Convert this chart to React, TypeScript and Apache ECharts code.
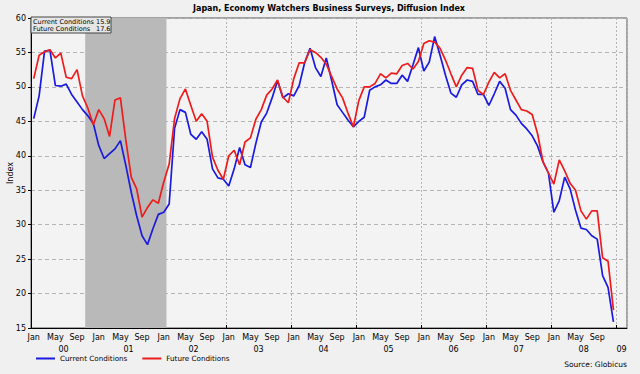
import React, { useEffect, useRef } from 'react';
import * as echarts from 'echarts';

const MONTHS = ['Jan', 'Feb', 'Mar', 'Apr', 'May', 'Jun', 'Jul', 'Aug', 'Sep', 'Oct', 'Nov', 'Dec'];
const YEARS = ['00', '01', '02', '03', '04', '05', '06', '07', '08', '09'];

// Monthly values Jan 2000 - Dec 2008
const CURRENT = [
  45.4, 48.7, 55.2, 55.3, 50.2, 50.1, 50.4, 48.9, 47.8, 46.7, 45.8, 44.7,
  41.5, 39.6, 40.3, 41.0, 42.2, 38.6, 34.7, 31.3, 28.4, 27.1, 29.4, 31.5,
  31.8, 33.0, 44.0, 46.7, 46.3, 43.1, 42.4, 43.5, 42.4, 38.1, 36.8, 36.6,
  35.6, 38.1, 41.2, 38.7, 38.3, 41.8, 44.9, 46.2, 48.4, 50.9, 48.4, 49.0,
  48.7, 50.2, 53.5, 55.6, 52.8, 51.5, 54.2, 50.9, 47.4, 46.3, 45.2, 44.2,
  45.0, 45.6, 49.5, 50.0, 50.3, 51.0, 50.5, 50.5, 51.7, 50.8, 53.2, 55.7,
  52.3, 53.6, 57.3, 54.6, 51.7, 49.1, 48.5, 50.3, 51.0, 50.8, 48.9, 48.9,
  47.3, 49.0, 50.8, 49.8, 46.7, 45.9, 44.7, 43.9, 42.9, 41.4, 39.1, 37.5,
  31.8, 33.5, 36.9, 35.2, 32.1, 29.5, 29.3, 28.4, 27.9, 22.6, 20.9, 15.9,
];

const FUTURE = [
  51.2, 54.6, 55.1, 55.4, 54.2, 54.9, 51.4, 51.2, 52.5, 48.7, 46.9, 44.5,
  46.7, 45.4, 42.8, 48.1, 48.4, 42.3, 36.9, 35.2, 31.1, 32.5, 33.6, 33.1,
  36.2, 38.8, 45.4, 48.3, 49.7, 47.3, 45.0, 46.1, 45.0, 39.8, 37.9, 36.6,
  40.0, 40.8, 38.7, 42.0, 42.6, 45.3, 46.7, 48.8, 49.7, 51.0, 48.5, 47.7,
  51.2, 53.5, 53.5, 55.4, 55.0, 54.3, 53.3, 51.5, 49.7, 48.4, 46.2, 44.2,
  48.0, 50.0, 50.0, 50.5, 51.9, 51.3, 52.0, 51.9, 53.1, 53.4, 52.6, 53.7,
  56.3, 56.7, 56.5, 55.6, 53.9, 51.9, 50.0, 51.7, 52.8, 52.7, 49.5, 48.9,
  50.7, 52.1, 51.3, 51.9, 49.5, 48.1, 46.7, 46.5, 46.0, 43.2, 39.1, 37.5,
  35.9, 39.4, 37.8, 36.0, 35.0, 32.0, 30.8, 32.0, 32.0, 25.2, 24.7, 17.6,
];

const Y_MIN = 15;
const Y_MAX = 60;
const Y_STEP = 5;
// Recession shading, in month boundaries from Jan 2000 (Nov 2000 start .. end of Jan 2002)
const RECESSION_START = 10;
const RECESSION_END = 25;
const N_MONTHS = 110; // Jan 2000 .. Feb 2009 shown on axis

const categories: string[] = [];
for (let y = 0; y < YEARS.length; y++) {
  for (let m = 0; m < 12; m++) {
    if (categories.length < N_MONTHS) categories.push(MONTHS[m] + ' ' + YEARS[y]);
  }
}
const boundaries: string[] = [];
for (let k = 0; k <= N_MONTHS; k++) boundaries.push(String(k));

const BLUE = '#1a1ae0';
const RED = '#ee1c1c';
const FONT = 'DejaVu Sans';

export default function App() {
  const ref = useRef<HTMLDivElement>(null);
  useEffect(() => {
    if (!ref.current) return;
    const chart = echarts.init(ref.current, null, { renderer: 'svg' });
    const gridRect = { left: 31, top: 18, right: 13, bottom: 46, containLabel: false, outerBoundsMode: 'none' };
    chart.setOption({
      animation: false,
      backgroundColor: '#f0f0f0',
      textStyle: { fontFamily: FONT },
      grid: [
        { ...gridRect, show: true, backgroundColor: '#f3f3f3', borderColor: '#555', borderWidth: 1 },
        { ...gridRect, show: false },
      ],
      xAxis: [
        {
          type: 'category',
          gridIndex: 0,
          data: categories,
          boundaryGap: true,
          axisLine: { lineStyle: { color: '#000', width: 1 } },
          axisTick: { interval: (i: number) => i % 4 === 0, length: 3, lineStyle: { color: '#000' } },
          axisLabel: {
            interval: (i: number) => i % 4 === 0 && i < 108,
            formatter: (v: string) => v.split(' ')[0],
            fontSize: 8,
            color: '#000',
            margin: 5,
          },
          splitLine: { show: true, interval: (i: number) => i % 12 === 0, lineStyle: { color: '#b4b4b4', type: [2, 2] } },
        },
        {
          type: 'category',
          gridIndex: 1,
          data: boundaries,
          boundaryGap: false,
          axisLine: { show: false },
          axisTick: { show: true, inside: true, length: 3, interval: (i: number) => i % 12 === 0, lineStyle: { color: '#000' } },
          axisLabel: {
            interval: (i: number) => (i % 12 === 6 && i < 108) || i === 109,
            formatter: (_v: string, i: number) => YEARS[Math.floor(i / 12)],
            fontSize: 8,
            color: '#000',
            margin: 17,
          },
          splitLine: { show: false },
        },
      ],
      yAxis: [
        {
          type: 'value',
          gridIndex: 0,
          min: Y_MIN,
          max: Y_MAX,
          interval: Y_STEP,
          name: 'Index',
          nameLocation: 'middle',
          nameGap: 17,
          nameMoveOverlap: false,
          nameTextStyle: { fontSize: 8, color: '#000' },
          axisLine: { show: true, lineStyle: { color: '#000' } },
          axisTick: { show: true, length: 3, lineStyle: { color: '#000' } },
          axisLabel: { fontSize: 8, color: '#000', margin: 5 },
          splitLine: { show: true, lineStyle: { color: '#b4b4b4', type: [4, 3] } },
        },
        { type: 'value', gridIndex: 1, min: Y_MIN, max: Y_MAX, show: false },
      ],
      legend: {
        data: ['Current Conditions', 'Future Conditions'],
        left: 31,
        top: 350,
        icon: 'rect',
        itemWidth: 19,
        itemHeight: 2,
        itemGap: 15,
        textStyle: { fontSize: 7.2, color: '#000', fontFamily: FONT },
      },
      series: [
        {
          type: 'line',
          xAxisIndex: 1,
          yAxisIndex: 1,
          data: [],
          silent: true,
          markArea: {
            silent: true,
            itemStyle: { color: '#b9b9b9' },
            data: [[{ xAxis: String(RECESSION_START) }, { xAxis: String(RECESSION_END) }]],
          },
        },
        {
          name: 'Current Conditions',
          type: 'line',
          data: CURRENT,
          symbol: 'none',
          lineStyle: { color: BLUE, width: 1.7 },
          itemStyle: { color: BLUE },
        },
        {
          name: 'Future Conditions',
          type: 'line',
          data: FUTURE,
          symbol: 'none',
          lineStyle: { color: RED, width: 1.7 },
          itemStyle: { color: RED },
        },
      ],
      graphic: [
        {
          type: 'text',
          x: 329,
          y: 8,
          z: 100,
          style: {
            text: 'Japan, Economy Watchers Business Surveys, Diffusion Index',
            align: 'center',
            verticalAlign: 'middle',
            fontSize: 8,
            fontWeight: 'bold',
            fontFamily: FONT,
            fill: '#000',
          },
        },
        {
          type: 'group',
          x: 31,
          y: 17,
          z: 100,
          children: [
            { type: 'rect', z: 100, shape: { x: 0, y: 0, width: 80, height: 16 }, style: { fill: '#e6e6e6', stroke: '#444', lineWidth: 1 } },
            { type: 'text', z: 101, x: 2, y: 4.5, style: { text: 'Current Conditions', verticalAlign: 'middle', fontSize: 6.5, fontFamily: FONT, fill: '#000' } },
            { type: 'text', z: 101, x: 79.5, y: 4.5, style: { text: CURRENT[CURRENT.length - 1].toFixed(1), align: 'right', verticalAlign: 'middle', fontSize: 6.5, fontFamily: FONT, fill: '#000' } },
            { type: 'text', z: 101, x: 2, y: 11.5, style: { text: 'Future Conditions', verticalAlign: 'middle', fontSize: 6.5, fontFamily: FONT, fill: '#000' } },
            { type: 'text', z: 101, x: 79.5, y: 11.5, style: { text: FUTURE[FUTURE.length - 1].toFixed(1), align: 'right', verticalAlign: 'middle', fontSize: 6.5, fontFamily: FONT, fill: '#000' } },
          ],
        },
        {
          type: 'text',
          x: 627,
          y: 364,
          z: 100,
          style: {
            text: 'Source: Globicus',
            align: 'right',
            verticalAlign: 'middle',
            fontSize: 7.5,
            fontFamily: FONT,
            fill: '#000',
          },
        },
      ],
    });
    return () => chart.dispose();
  }, []);
  return (
    <div
      ref={ref}
      style={{ position: 'fixed', left: 0, top: 0, width: 640, height: 374, background: '#f0f0f0' }}
    />
  );
}
